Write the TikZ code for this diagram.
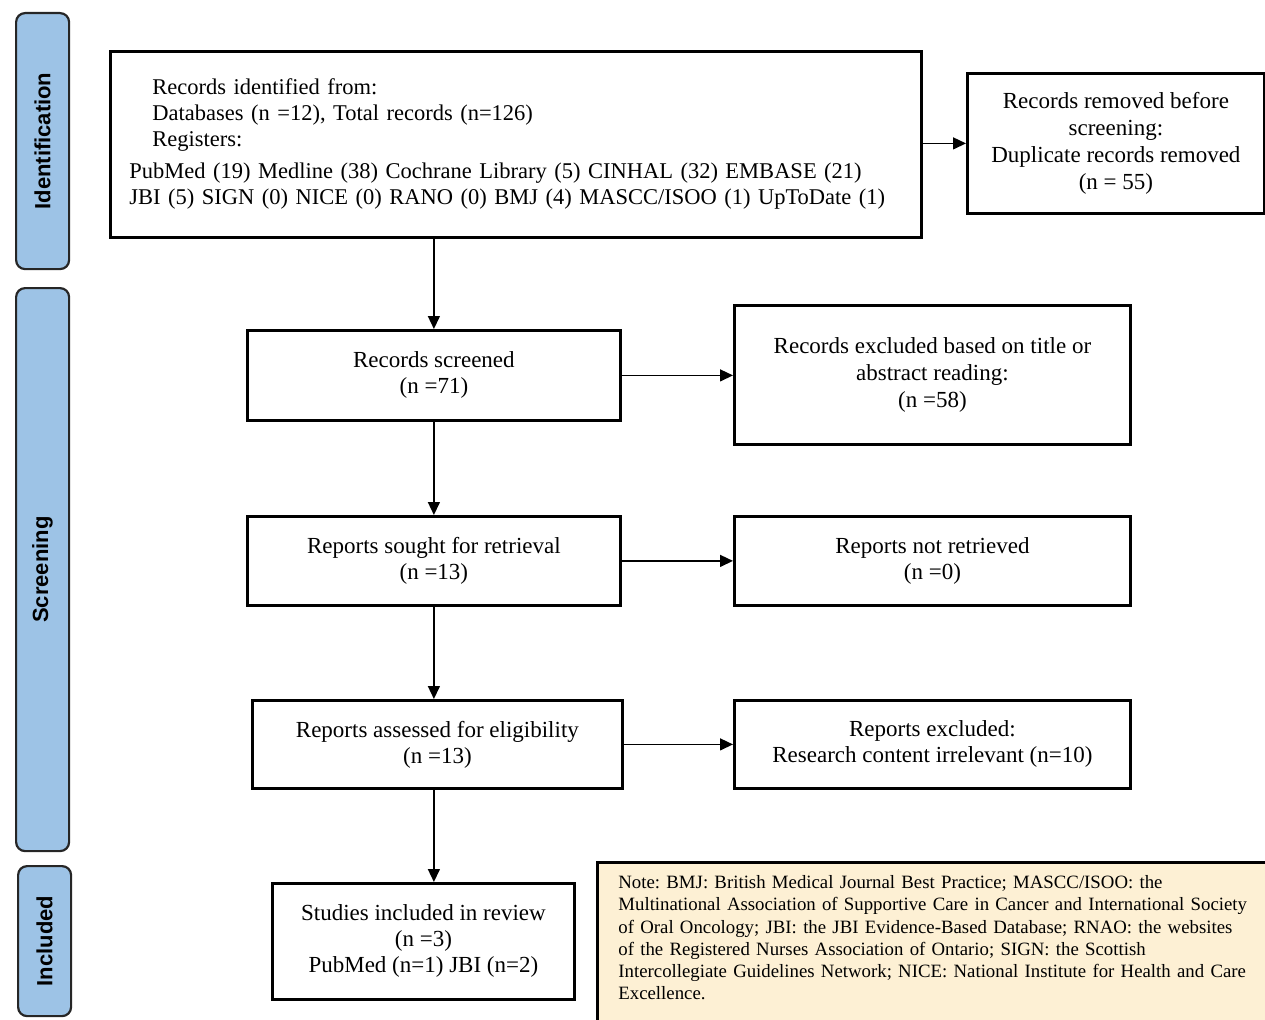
\documentclass[tikz,border=0pt]{standalone}
\usepackage{fontspec}
\setmainfont{Liberation Serif}
\setsansfont{Liberation Sans}
\usepackage{tikz}
\usetikzlibrary{positioning}
\usetikzlibrary{arrows.meta}
\definecolor{stageblue}{RGB}{157,195,230}
\definecolor{notecream}{RGB}{253,240,212}
\tikzstyle{PRISMA_style}=[
	x=1pt,y=-1pt,
	stage/.style={rectangle,rounded corners=9pt,draw=black!85,line width=2.2pt,fill=stageblue,minimum width=53pt,anchor=north west,font=\sffamily\bfseries\fontsize{22}{26}\selectfont},
	box/.style={rectangle,draw,line width=2.8pt,fill=white,align=center,anchor=north west,font=\fontsize{23}{26}\selectfont},
	note/.style={rectangle,draw,line width=2.8pt,fill=notecream,align=left,anchor=north west,text width=640pt,inner xsep=21pt,inner ysep=12pt,font=\fontsize{18.8}{22.3}\selectfont\frenchspacing},
	flow/.style={line width=1.4pt,-{Triangle[length=13pt,width=12pt]}}
]

\begin{document}
\begin{tikzpicture}[PRISMA_style]
			\useasboundingbox (0,0) rectangle (1265,1019);
			
			%stages
			\node[stage,minimum height=256pt] (sid) at (15,12) {\rotatebox{90}{Identification}};
			\node[stage,minimum height=563pt] (sscr) at (15,287) {\rotatebox{90}{Screening}};
			\node[stage,minimum height=150pt] (sinc) at (17,865) {\rotatebox{90}{Included}};
			
			%identification
			\node[box,align=left,text width=773pt,inner xsep=19pt,minimum height=186pt,font=\fontsize{22.5}{26}\selectfont] (ident) at (109,50)
			{\hspace*{23pt}Records identified from:\\
			 \hspace*{23pt}Databases (n =12), Total records (n=126)\\
			 \hspace*{23pt}Registers:\\[6pt]
			 PubMed (19) Medline (38) Cochrane Library (5) CINHAL (32) EMBASE (21)\\
			 JBI (5) SIGN (0) NICE (0) RANO (0) BMJ (4) MASCC/ISOO (1) UpToDate (1)};
			\node[box,minimum width=297pt,minimum height=140pt,font=\fontsize{23}{27}\selectfont] (removed) at (966,72)
			{Records removed before\\screening:\\Duplicate records removed\\(n = 55)};
			
			%screening
			\node[box,minimum width=373pt,minimum height=90pt] (screened) at (246,329) {Records screened\\(n =71)};
			\node[box,minimum width=396pt,minimum height=139pt,font=\fontsize{23}{27}\selectfont] (excluded) at (733,304)
			{Records excluded based on title or\\abstract reading:\\(n =58)};
			
			\node[box,minimum width=373pt,minimum height=89pt] (sought) at (246,515) {Reports sought for retrieval\\(n =13)};
			\node[box,minimum width=396pt,minimum height=89pt] (notret) at (733,515) {Reports not retrieved\\(n =0)};
			
			\node[box,minimum width=370pt,minimum height=88pt] (assessed) at (251,699) {Reports assessed for eligibility\\(n =13)};
			\node[box,minimum width=396pt,minimum height=88pt] (rexcl) at (733,699) {Reports excluded:\\Research content irrelevant (n=10)};
			
			%included
			\node[box,minimum width=302pt,minimum height=116pt] (studies) at (271,882) {Studies included in review\\(n =3)\\PubMed (n=1) JBI (n=2)};
			
			%note
			\node[note,inner ysep=13pt] (abbr) at (596,861)
			{Note: BMJ: British Medical Journal Best Practice; MASCC/ISOO: the\\
			 Multinational Association of Supportive Care in Cancer and International Society\\
			 of Oral Oncology; JBI: the JBI Evidence-Based Database; RNAO: the websites\\
			 of the Registered Nurses Association of Ontario; SIGN: the Scottish\\
			 Intercollegiate Guidelines Network; NICE: National Institute for Health and Care\\
			 Excellence.\\ \mbox{}};
			
			\path[flow] (screened.north |- ident.south) edge (screened.north)
			(removed.west -| ident.east) edge (removed.west)
			(screened.south) edge (sought.north)
			(screened.east) edge (screened.east -| excluded.west)
			(sought.south) edge (sought.south |- assessed.north)
			(sought.east) edge (notret.west)
			(sought.south |- assessed.south) edge (sought.south |- studies.north)
			(assessed.east) edge (rexcl.west);
			
\end{tikzpicture}
\end{document}
